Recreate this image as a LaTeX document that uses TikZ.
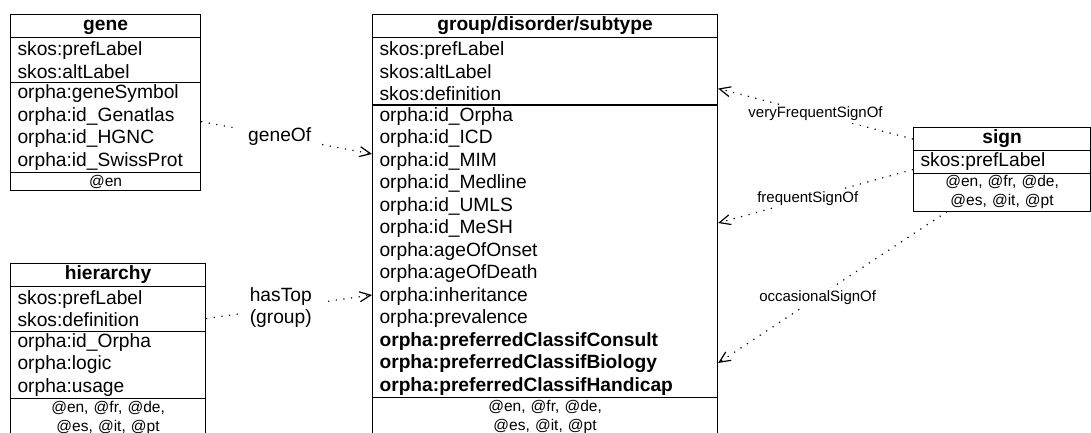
\documentclass[tikz,border=0pt]{standalone}
\usepackage{fontspec}
\setmainfont{Liberation Sans}
\usetikzlibrary{arrows.meta}

\begin{document}
\begin{tikzpicture}[x=1pt, y=-1pt,
    box/.style={draw, line width=1.1pt, anchor=north west, inner xsep=7pt, inner ysep=0pt, minimum width=#1, text width=#1-14pt},
    head/.style={box=#1, align=center, font=\bfseries\fontsize{19.2}{22.5}\selectfont, minimum height=23pt, text height=13.5pt, text depth=4pt},
    attrs/.style={box=#1, align=left, font=\fontsize{19.2}{22.5}\selectfont},
    langs/.style={box=#1, align=center, font=\fontsize{15.5}{19}\selectfont},
    rel/.style={line width=1.2pt, dash pattern=on 1.2pt off 6.5pt, -{Straight Barb[length=11pt,width=10pt]}},
    big/.style={fill=white, inner xsep=10pt, inner ysep=2pt, font=\fontsize{19.2}{22}\selectfont, align=left},
    small/.style={fill=white, inner sep=2pt, font=\fontsize{15}{18}\selectfont}]
            \useasboundingbox (0,0) rectangle (1091,433);
            \clip (0,0) rectangle (1091,433);

            % gene
            \node[head=190pt] (gene-1) at (10,14) {gene};
            \node[attrs=190pt, minimum height=45pt] (gene-2) at (10,37) {skos:prefLabel\\skos:altLabel};
            \node[attrs=190pt, minimum height=90pt] (gene-3) at (10,82) {orpha:geneSymbol\\orpha:id\_Genatlas\\orpha:id\_HGNC\\orpha:id\_SwissProt};
            \node[langs=190pt, minimum height=18pt] (gene-4) at (10,172) {@en};

            % hierarchy
            \node[head=195pt, minimum height=22.5pt] (hier-1) at (10,263) {hierarchy};
            \node[attrs=195pt, minimum height=45pt] (hier-2) at (10,285.5) {skos:prefLabel\\skos:definition};
            \node[attrs=195pt, minimum height=67.5pt] (hier-3) at (10,330.5) {orpha:id\_Orpha\\orpha:logic\\orpha:usage};
            \node[langs=195pt, minimum height=38pt] (hier-4) at (10,398) {@en, @fr, @de,\\@es, @it, @pt};

            % group/disorder/subtype
            \node[head=345pt] (grp-1) at (372,14) {group/disorder/subtype};
            \node[attrs=345pt, minimum height=67.5pt] (grp-2) at (372,37) {skos:prefLabel\\skos:altLabel\\skos:definition};
            \node[attrs=345pt, minimum height=292.5pt] (grp-3) at (372,104.5) {orpha:id\_Orpha\\orpha:id\_ICD\\orpha:id\_MIM\\orpha:id\_Medline\\orpha:id\_UMLS\\orpha:id\_MeSH\\orpha:ageOfOnset\\orpha:ageOfDeath\\orpha:inheritance\\orpha:prevalence\\\textbf{orpha:preferredClassifConsult}\\\textbf{orpha:preferredClassifBiology}\\\textbf{orpha:preferredClassifHandicap}};
            \node[langs=345pt, minimum height=38pt] (grp-4) at (372,397) {@en, @fr, @de,\\@es, @it, @pt};

            % sign
            \node[head=177pt] (sign-1) at (913,127) {sign};
            \node[attrs=177pt, minimum height=22.5pt] (sign-2) at (913,150) {skos:prefLabel};
            \node[langs=177pt, minimum height=38pt] (sign-3) at (913,172.5) {@en, @fr, @de,\\@es, @it, @pt};

            % relations
            \draw[rel] ([yshift=6pt]gene-3.east) -- node[big, pos=0.46] (gene-of) {geneOf} ([yshift=-49.5pt]grp-3.north west);
            \draw[rel] ([yshift=-10pt]hier-2.east) -- node[big, pos=0.45] (has-top) {hasTop\\(group)} ([yshift=-190.5pt]grp-3.north west);
            \draw[rel] (sign-1.west) -- node[small, pos=0.5] (very-freq) {veryFrequentSignOf} ([yshift=-17.25pt]grp-2.east);
            \draw[rel] ([yshift=-7.75pt]sign-2.west) -- node[small, pos=0.54] (freq) {frequentSignOf} ([yshift=-118.5pt]grp-3.north east);
            \draw[rel] ([xshift=34pt]sign-3.south west) -- node[small, pos=0.565] (occ) {occasionalSignOf} ([yshift=-258.5pt]grp-3.north east);
        \end{tikzpicture}
\end{document}
